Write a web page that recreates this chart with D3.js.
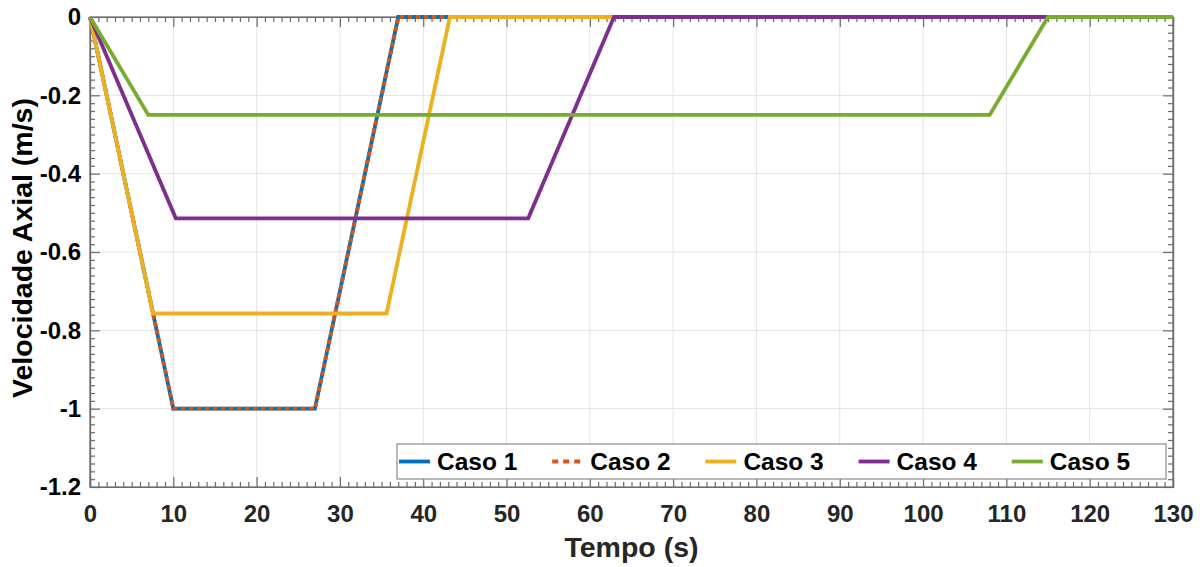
<!DOCTYPE html>
<html>
<head>
<meta charset="utf-8">
<script src="https://cdn.jsdelivr.net/npm/d3@7"></script>
<style>
  html, body { margin: 0; padding: 0; background: #fff; }
  svg { display: block; font-family: "Liberation Sans", Arial, Helvetica, sans-serif; font-weight: bold; }
</style>
</head>
<body>
<svg id="chart" width="1203" height="567"></svg>
<script>
// ---- data ----
const seriesNames = ["Caso 1", "Caso 2", "Caso 3", "Caso 4", "Caso 5"];
const tempoCaso1 = [0, 10, 27, 37, 130];
const velCaso1   = [0, -1, -1, 0, 0];
const tempoCaso2 = [0, 10, 27, 37, 130];
const velCaso2   = [0, -1, -1, 0, 0];
const tempoCaso3 = [0, 7.57, 35.6, 43.2, 130];
const velCaso3   = [0, -0.757, -0.757, 0, 0];
const tempoCaso4 = [0, 10.3, 52.6, 62.9, 130];
const velCaso4   = [0, -0.514, -0.514, 0, 0];
const tempoCaso5 = [0, 7, 108, 115, 130];
const velCaso5   = [0, -0.25, -0.25, 0, 0];
const xTicks = [0, 10, 20, 30, 40, 50, 60, 70, 80, 90, 100, 110, 120, 130];
const yTicks = [0, -0.2, -0.4, -0.6, -0.8, -1, -1.2];
const yTickLabels = ["0", "-0.2", "-0.4", "-0.6", "-0.8", "-1", "-1.2"];
const xLabel = "Tempo (s)";
const yLabel = "Velocidade Axial (m/s)";

// ---- styles ----
const colors = ["#0072BD", "#D95319", "#EDB120", "#7E2F8E", "#77AC30"];
const dashes = [null, "4.5,3.5", null, null, null];

const tempos = [tempoCaso1, tempoCaso2, tempoCaso3, tempoCaso4, tempoCaso5];
const vels = [velCaso1, velCaso2, velCaso3, velCaso4, velCaso5];
const series = seriesNames.map((n, i) => ({
  name: n, color: colors[i], dash: dashes[i],
  points: tempos[i].map((t, j) => ({ t, v: vels[i][j] }))
}));

const svg = d3.select("#chart");
const L = 90, R = 1173, T = 17, B = 487;
const x = d3.scaleLinear().domain([0, 130]).range([L, R]);
const y = d3.scaleLinear().domain([-1.2, 0]).range([B, T]);

const axisColor = "#6b6b6b";

// grid
const grid = svg.append("g");
grid.selectAll("line.gx").data(xTicks.slice(1, -1)).join("line")
  .attr("x1", d => x(d)).attr("x2", d => x(d)).attr("y1", T).attr("y2", B)
  .attr("stroke", "#e3e3e3").attr("stroke-width", 1);
grid.selectAll("line.gy").data(yTicks.slice(1, -1)).join("line")
  .attr("y1", d => y(d)).attr("y2", d => y(d)).attr("x1", L).attr("x2", R)
  .attr("stroke", "#e3e3e3").attr("stroke-width", 1);

// minor tick values
const xMinor = d3.range(0, 131, 1).filter(v => v % 10 !== 0);
const yMinor = d3.range(0, 61, 1).map(k => -k * 0.02).filter((v, k) => k % 10 !== 0);

function styleAxis(g) {
  g.selectAll("path.domain").attr("stroke", axisColor).attr("stroke-width", 1.2);
  g.selectAll(".tick line").attr("stroke", axisColor).attr("stroke-width", 1.2);
}

// minor ticks (all sides)
const minorLen = 5, majorLen = 10;
svg.append("g").attr("transform", `translate(0,${B})`)
  .call(d3.axisTop(x).tickValues(xMinor).tickSize(minorLen).tickFormat(""))
  .call(styleAxis);
svg.append("g").attr("transform", `translate(0,${T})`)
  .call(d3.axisBottom(x).tickValues(xMinor).tickSize(minorLen).tickFormat(""))
  .call(styleAxis);
svg.append("g").attr("transform", `translate(${L},0)`)
  .call(d3.axisRight(y).tickValues(yMinor).tickSize(minorLen).tickFormat(""))
  .call(styleAxis);
svg.append("g").attr("transform", `translate(${R},0)`)
  .call(d3.axisLeft(y).tickValues(yMinor).tickSize(minorLen).tickFormat(""))
  .call(styleAxis);

// major ticks + labels
const xAxis = svg.append("g").attr("transform", `translate(0,${B})`)
  .call(d3.axisBottom(x).tickValues(xTicks).tickSizeInner(-majorLen).tickSizeOuter(0).tickPadding(17.5).tickFormat(d => String(d)))
  .call(styleAxis);
xAxis.selectAll("text").attr("font-size", 24).attr("font-weight", "bold")
  .attr("fill", "#262626").attr("font-family", "Liberation Sans, Arial, sans-serif");

svg.append("g").attr("transform", `translate(0,${T})`)
  .call(d3.axisTop(x).tickValues(xTicks).tickSizeInner(-majorLen).tickSizeOuter(0).tickFormat(""))
  .call(styleAxis);

const yAxis = svg.append("g").attr("transform", `translate(${L},0)`)
  .call(d3.axisLeft(y).tickValues(yTicks).tickSizeInner(-majorLen).tickSizeOuter(0).tickPadding(9)
    .tickFormat((d, i) => yTickLabels[i]))
  .call(styleAxis);
yAxis.selectAll("text").attr("font-size", 24).attr("font-weight", "bold")
  .attr("fill", "#000").attr("font-family", "Liberation Sans, Arial, sans-serif");

svg.append("g").attr("transform", `translate(${R},0)`)
  .call(d3.axisRight(y).tickValues(yTicks).tickSizeInner(-majorLen).tickSizeOuter(0).tickFormat(""))
  .call(styleAxis);

// box
svg.append("rect").attr("x", L).attr("y", T).attr("width", R - L).attr("height", B - T)
  .attr("fill", "none").attr("stroke", axisColor).attr("stroke-width", 1.2);

// lines
const line = d3.line().x(d => x(d.t)).y(d => y(d.v));
svg.append("g").selectAll("path").data(series).join("path")
  .attr("d", d => line(d.points))
  .attr("fill", "none")
  .attr("stroke", d => d.color)
  .attr("stroke-width", 3.8)
  .attr("stroke-linejoin", "miter")
  .attr("stroke-dasharray", d => d.dash);

// axis labels
svg.append("text").attr("x", (L + R) / 2).attr("y", 557).attr("text-anchor", "middle")
  .attr("font-size", 28.5).attr("fill", "#262626").text(xLabel);
svg.append("text").attr("transform", `translate(32,${(T + B) / 2 - 4}) rotate(-90)`)
  .attr("text-anchor", "middle").attr("font-size", 28.5).attr("fill", "#000").text(yLabel);

// legend
const legX = 397, legY = 444, legW = 769, legH = 35, legStep = 153.2;
const leg = svg.append("g");
leg.append("rect").attr("x", legX).attr("y", legY).attr("width", legW).attr("height", legH)
  .attr("fill", "#fff").attr("stroke", "#8a8a8a").attr("stroke-width", 1.2);
const items = leg.selectAll("g.item").data(series).join("g")
  .attr("transform", (d, i) => `translate(${legX + 2 + i * legStep},${legY + legH / 2})`);
items.append("line").attr("x1", 0).attr("x2", 31).attr("y1", 0).attr("y2", 0)
  .attr("stroke", d => d.color).attr("stroke-width", 3.8)
  .attr("stroke-dasharray", d => d.dash ? "6,5" : null);
items.append("text").attr("x", 38).attr("y", 8.8).attr("font-size", 24.5).attr("fill", "#000").text(d => d.name);
</script>
</body>
</html>
